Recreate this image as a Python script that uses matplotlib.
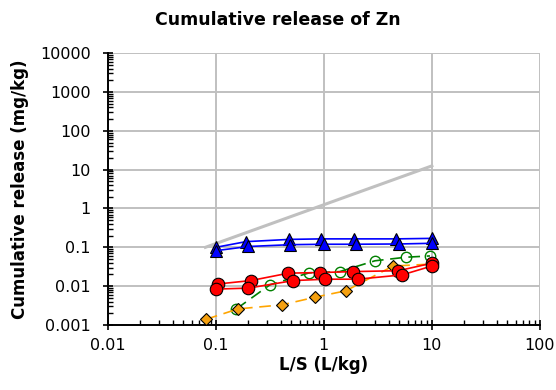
import numpy as np
import matplotlib
matplotlib.use("Agg")
import matplotlib.pyplot as plt
from matplotlib.ticker import LogLocator, FixedLocator, FixedFormatter, NullFormatter

# Reference line (slope 1 on log-log)
ref_ls = [0.08, 10]
ref_val = [0.1, 12.5]

# Blue triangles, two replicates
tri_ls_a = [0.1, 0.19, 0.48, 0.95, 1.9, 4.7, 10]
tri_val_a = [0.1, 0.14, 0.16, 0.165, 0.165, 0.165, 0.17]
tri_ls_b = [0.1, 0.2, 0.49, 1.0, 2.0, 5.0, 10]
tri_val_b = [0.082, 0.105, 0.117, 0.12, 0.12, 0.122, 0.127]

# Red circles, two replicates
red_ls_a = [0.105, 0.21, 0.47, 0.92, 1.86, 4.9, 10]
red_val_a = [0.0114, 0.0139, 0.0216, 0.0224, 0.0237, 0.025, 0.039]
red_ls_b = [0.1, 0.2, 0.52, 1.03, 2.05, 5.3, 10]
red_val_b = [0.0084, 0.0089, 0.0139, 0.0151, 0.0151, 0.0195, 0.033]

# Green open circles
grn_ls = [0.155, 0.316, 0.73, 1.4, 2.97, 5.75, 9.6]
grn_val = [0.0026, 0.0108, 0.022, 0.0237, 0.045, 0.0556, 0.06]

# Orange diamonds
org_ls = [0.081, 0.161, 0.41, 0.83, 1.6, 4.37, 10]
org_val = [0.0014, 0.0026, 0.0033, 0.0052, 0.0076, 0.033, 0.037]

fig = plt.figure(figsize=(5.56, 3.90), dpi=100)
ax = fig.add_axes([0.194, 0.1667, 0.777, 0.697])

ax.plot(ref_ls, ref_val, color="#c0c0c0", linewidth=2.2, zorder=2)
ax.plot(grn_ls, grn_val, color="#008000", linewidth=1.2, dashes=(7, 4),
        marker="o", markersize=7.5, markerfacecolor="none", markeredgecolor="#008000",
        markeredgewidth=1.0, zorder=3)
ax.plot(org_ls, org_val, color="#ffa500", linewidth=1.2, dashes=(7, 4),
        marker="D", markersize=6.5, markerfacecolor="#f5a00f", markeredgecolor="black",
        markeredgewidth=0.8, zorder=4)
for xs, ys in [(red_ls_a, red_val_a), (red_ls_b, red_val_b)]:
    ax.plot(xs, ys, color="red", linewidth=1.2, marker="o", markersize=9,
            markerfacecolor="red", markeredgecolor="black", markeredgewidth=0.8, zorder=5)
for xs, ys in [(tri_ls_a, tri_val_a), (tri_ls_b, tri_val_b)]:
    ax.plot(xs, ys, color="blue", linewidth=1.2, marker="^", markersize=9,
            markerfacecolor="blue", markeredgecolor="black", markeredgewidth=0.8, zorder=6)

ax.set_xscale("log")
ax.set_yscale("log")
ax.set_xlim(0.01, 100)
ax.set_ylim(0.001, 10000)

xt = [0.01, 0.1, 1, 10, 100]
yt = [0.001, 0.01, 0.1, 1, 10, 100, 1000, 10000]
ax.xaxis.set_major_locator(FixedLocator(xt))
ax.xaxis.set_major_formatter(FixedFormatter(["0.01", "0.1", "1", "10", "100"]))
ax.yaxis.set_major_locator(FixedLocator(yt))
ax.yaxis.set_major_formatter(FixedFormatter(["0.001", "0.01", "0.1", "1", "10", "100", "1000", "10000"]))
ax.xaxis.set_minor_locator(LogLocator(base=10, subs=np.arange(2, 10), numticks=20))
ax.yaxis.set_minor_locator(LogLocator(base=10, subs=np.arange(2, 10), numticks=20))
ax.xaxis.set_minor_formatter(NullFormatter())
ax.yaxis.set_minor_formatter(NullFormatter())

ax.tick_params(which="major", direction="inout", length=7, width=1.2, labelsize=11.5)
ax.tick_params(axis="y", which="major", pad=9)
ax.tick_params(axis="x", which="major", pad=6)
ax.tick_params(which="minor", direction="in", length=3.5, width=1.0)
ax.grid(True, which="major", color="#c0c0c0", linewidth=1.4, zorder=0)
ax.set_axisbelow(True)

for side in ["top", "right"]:
    ax.spines[side].set_visible(False)
for side in ["left", "bottom"]:
    ax.spines[side].set_linewidth(1.4)

ax.set_xlabel("L/S (L/kg)", fontsize=12, fontweight="bold", labelpad=2)
ax.set_ylabel("Cumulative release (mg/kg)", fontsize=12, fontweight="bold", labelpad=8)
fig.suptitle("Cumulative release of Zn", x=0.5, y=1 - 20 / 390, va="center",
             fontsize=12.5, fontweight="bold")

fig.savefig("out.png", dpi=100)
